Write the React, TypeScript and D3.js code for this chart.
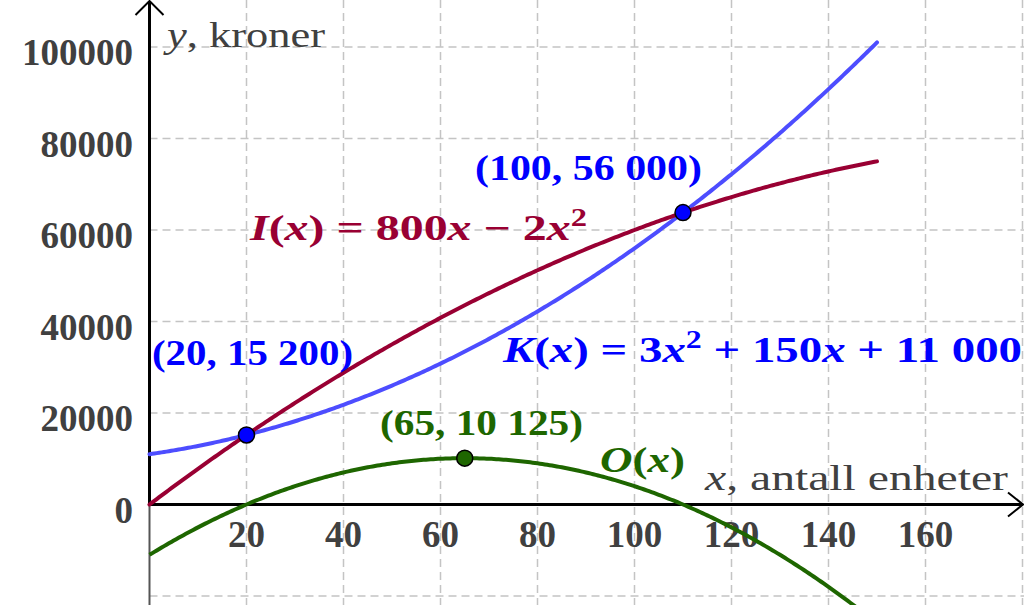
import React from "react";
import * as d3 from "d3";

// ---- data ----
const xTicks = [20, 40, 60, 80, 100, 120, 140, 160];
const yTicks = [0, 20000, 40000, 60000, 80000, 100000];
const xGrid = [20, 40, 60, 80, 100, 120, 140, 160, 180];
const yGrid = [-20000, 0, 20000, 40000, 60000, 80000, 100000];
// polynomial coefficients [a, b, c] for a x^2 + b x + c
const incomeCoef = [-2, 800, 0];
const costCoef = [3, 150, 11000];
const profitCoef = [-5, 650, -11000];
const xDomainCurve = [0, 150];
const pointsBlue = [
  [20, 15200],
  [110, 63800],
];
const pointGreen = [65, 10125];

const W = 1024;
const H = 605;

type Seg = { t: string; it?: boolean; sup?: boolean };

function MathText({ x, y, segs, fill, size, len, anchor }: { x: number; y: number; segs: Seg[]; fill: string; size: number; len?: number; anchor?: string }) {
  const out: React.ReactNode[] = [];
  let prevSup = false;
  segs.forEach((s, i) => {
    let dy = 0;
    if (s.sup && !prevSup) dy = -size * 0.4;
    if (!s.sup && prevSup) dy = size * 0.4;
    out.push(
      <tspan key={i} dy={dy || undefined} fontStyle={s.it ? "italic" : "normal"} fontSize={s.sup ? size * 0.68 : size}>
        {s.t}
      </tspan>
    );
    prevSup = !!s.sup;
  });
  return (
    <text x={x} y={y} fill={fill} fontSize={size} fontWeight="bold" fontFamily="'Liberation Serif', 'Times New Roman', serif" textLength={len} lengthAdjust={len ? "spacingAndGlyphs" : undefined} textAnchor={anchor} style={{ whiteSpace: "pre" }}>
      {out}
    </text>
  );
}

export default function App() {
  const x = d3.scaleLinear().domain([0, 180]).range([149.5, 1022.5]);
  const y = d3.scaleLinear().domain([0, 100000]).range([504.5, 47]);
  const poly = (c: number[]) => (v: number) => c[0] * v * v + c[1] * v + c[2];
  const samples = d3.range(xDomainCurve[0], xDomainCurve[1] + 0.001, 0.5);
  const line = (c: number[]) =>
    d3
      .line<number>()
      .x((v) => x(v))
      .y((v) => y(poly(c)(v)))(samples) as string;

  const tickFont = "'Liberation Serif', 'Times New Roman', serif";
  const tickColor = "#404040";
  const crimson = "#990033";
  const blueLine = "#4d4dff";
  const blueText = "#0000ff";
  const green = "#1e6600";

  return (
    <svg width={W} height={H} style={{ position: "absolute", left: 0, top: 0, background: "#fff" }}>
      <rect width={W} height={H} fill="#fff" />
      {/* grid */}
      {xGrid.map((g) => (
        <line key={"gx" + g} x1={x(g)} x2={x(g)} y1={0} y2={H} stroke="#c4c4c4" strokeWidth={1.5} strokeDasharray="8,5" />
      ))}
      {yGrid.map((g) => (
        <line key={"gy" + g} x1={x(0)} x2={W} y1={y(g)} y2={y(g)} stroke="#c4c4c4" strokeWidth={1.5} strokeDasharray="8,5" />
      ))}
      {/* negative y axis part */}
      <line x1={x(0)} x2={x(0)} y1={y(0)} y2={H} stroke="#555" strokeWidth={2} />
      {/* axes */}
      <line x1={x(0)} x2={x(0)} y1={y(0)} y2={1} stroke="#000" strokeWidth={3} />
      <polyline points={`${x(0) - 14},15 ${x(0)},1 ${x(0) + 14},15`} fill="none" stroke="#000" strokeWidth={2} />
      <line x1={x(0)} x2={1023} y1={y(0)} y2={y(0)} stroke="#000" strokeWidth={3} />
      <polyline points={`1008,${y(0) - 12} 1023,${y(0)} 1008,${y(0) + 12}`} fill="none" stroke="#000" strokeWidth={2} />

      {/* tick labels */}
      {xTicks.map((t) => (
        <text key={"xt" + t} x={x(t)} y={547} textAnchor="middle" fontSize={37} fontWeight="bold" fontFamily={tickFont} fill={tickColor}>
          {t}
        </text>
      ))}
      {yTicks.map((t) => (
        <text key={"yt" + t} x={133} y={y(t) + 18} textAnchor="end" fontSize={37} fontWeight="bold" fontFamily={tickFont} fill={tickColor}>
          {t}
        </text>
      ))}

      {/* axis labels */}
      <text x={167} y={47} fontSize={36} fontFamily={tickFont} fill={tickColor} style={{ whiteSpace: "pre" }} textLength={158} lengthAdjust="spacingAndGlyphs">
        <tspan fontStyle="italic">y</tspan>
        <tspan>, kroner</tspan>
      </text>
      <text x={705} y={490} fontSize={36} fontFamily={tickFont} fill={tickColor} style={{ whiteSpace: "pre" }} textLength={303} lengthAdjust="spacingAndGlyphs">
        <tspan fontStyle="italic">x</tspan>
        <tspan>, antall enheter</tspan>
      </text>

      {/* curves */}
      <path d={line(profitCoef)} fill="none" stroke={green} strokeWidth={4} />
      <path d={line(costCoef)} fill="none" stroke={blueLine} strokeWidth={4} strokeLinecap="round" />
      <path d={line(incomeCoef)} fill="none" stroke={crimson} strokeWidth={4} strokeLinecap="round" />

      {/* points */}
      {pointsBlue.map((p, i) => (
        <circle key={"pb" + i} cx={x(p[0])} cy={y(p[1])} r={8} fill="#0000ff" stroke="#000" strokeWidth={1.5} />
      ))}
      <circle cx={x(pointGreen[0])} cy={y(pointGreen[1])} r={8} fill={green} stroke="#000" strokeWidth={1.5} />

      {/* labels */}
      <MathText x={250} y={240} size={36} fill={crimson} len={337} segs={[{ t: "I", it: true }, { t: "(" }, { t: "x", it: true }, { t: ") = 800" }, { t: "x", it: true }, { t: " − 2" }, { t: "x", it: true }, { t: "2", sup: true }]} />
      <MathText x={503} y={362} size={36} fill={blueText} len={519} segs={[{ t: "K", it: true }, { t: "(" }, { t: "x", it: true }, { t: ") = 3" }, { t: "x", it: true }, { t: "2", sup: true }, { t: " + 150" }, { t: "x", it: true }, { t: " + 11 000" }]} />
      <MathText x={475} y={180} size={36} fill={blueText} len={227} segs={[{ t: "(100, 56 000)" }]} />
      <MathText x={152} y={365} size={36} fill={blueText} len={201} segs={[{ t: "(20, 15 200)" }]} />
      <MathText x={380} y={435} size={36} fill={green} len={203} segs={[{ t: "(65, 10 125)" }]} />
      <MathText x={600} y={472} size={36} fill={green} len={85} segs={[{ t: "O", it: true }, { t: "(" }, { t: "x", it: true }, { t: ")" }]} />
    </svg>
  );
}
